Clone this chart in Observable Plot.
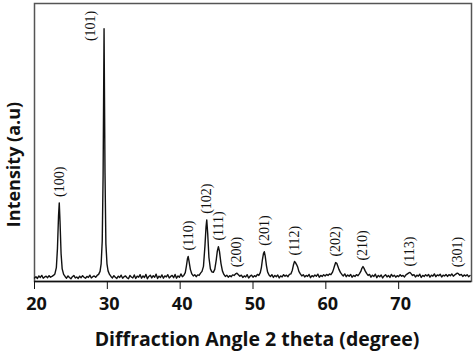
<!DOCTYPE html>
<html><head><meta charset="utf-8">
<script src="https://cdn.jsdelivr.net/npm/d3@7"></script>
<script src="https://cdn.jsdelivr.net/npm/@observablehq/plot@0.6"></script>
<style>body{margin:0;background:#fff}</style>
</head><body><div id="chart"></div>
<script>
// XRD pattern: [2theta (degree), intensity (a.u.)]
const pattern = [
[20.0,14],[20.2,19],[20.4,12],[20.6,22],[20.8,16],[21.0,24],[21.2,13],[21.4,18],[21.6,21],[21.8,15],[22.0,23],[22.2,17],[22.4,20],
[22.6,24],[22.8,30],[23.0,55],[23.15,130],[23.3,260],[23.4,311],[23.5,240],[23.65,110],[23.8,50],[24.0,28],[24.2,20],
[24.4,13],[24.6,22],[24.8,16],[25.0,11],[25.2,19],[25.4,24],[25.6,14],[25.8,18],[26.0,12],[26.2,21],[26.4,15],[26.6,23],[26.8,17],[27.0,13],[27.2,20],[27.4,16],[27.6,25],[27.8,14],[28.0,19],[28.2,22],[28.4,17],[28.6,24],[28.8,28],
[29.0,40],[29.15,70],[29.3,160],[29.42,420],[29.55,1000],[29.68,430],[29.8,150],[29.95,70],[30.1,42],[30.3,28],
[30.5,20],[30.7,14],[30.9,23],[31.1,17],[31.3,12],[31.5,21],[31.7,16],[31.9,25],[32.1,13],[32.3,19],[32.5,22],[32.7,15],[32.9,11],[33.1,24],[33.3,18],[33.5,14],[33.7,26],[33.9,12],[34.1,21],[34.3,17],[34.5,27],[34.7,13],[34.9,22],[35.1,16],[35.3,28],[35.5,11],[35.7,20],[35.9,25],[36.1,14],[36.3,23],[36.5,17],[36.7,29],[36.9,12],[37.1,21],[37.3,16],[37.5,26],[37.7,13],[37.9,22],[38.1,18],[38.3,27],[38.5,14],[38.7,20],[38.9,24],[39.1,15],[39.3,28],[39.5,13],[39.7,22],[39.9,17],[40.1,30],[40.3,19],[40.5,24],
[40.7,35],[40.85,60],[41.0,90],[41.1,99],[41.22,80],[41.4,48],[41.6,30],[41.8,22],[42.0,27],[42.2,19],[42.4,26],[42.6,24],[42.8,33],[43.0,40],
[43.2,60],[43.4,140],[43.55,215],[43.65,244],[43.78,190],[43.95,95],[44.15,50],[44.35,38],[44.55,36],[44.75,48],
[44.95,85],[45.1,120],[45.25,138],[45.4,118],[45.6,72],[45.8,42],[46.0,28],[46.2,20],[46.4,25],[46.6,17],[46.8,23],[47.0,19],[47.2,26],
[47.4,24],[47.6,30],[47.8,33],[48.0,27],[48.2,21],[48.4,25],[48.6,16],[48.8,22],[49.0,18],[49.2,27],[49.4,14],[49.6,21],[49.8,25],[50.0,17],[50.2,23],[50.4,19],[50.6,28],[50.8,24],[51.0,35],
[51.15,55],[51.3,88],[51.45,112],[51.55,118],[51.68,100],[51.85,62],[52.0,38],[52.2,26],[52.4,20],[52.6,27],[52.8,16],[53.0,24],[53.2,19],[53.4,26],[53.6,14],[53.8,22],[54.0,18],[54.2,27],[54.4,21],[54.6,25],[54.8,19],[55.0,28],[55.2,30],
[55.4,45],[55.55,65],[55.7,79],[55.85,74],[56.0,66],[56.15,56],[56.3,40],[56.5,30],[56.7,22],[56.9,27],[57.1,18],[57.3,24],[57.5,20],[57.7,28],[57.9,15],[58.1,23],[58.3,19],[58.5,26],[58.7,21],[58.9,29],[59.1,17],[59.3,24],[59.5,20],[59.7,27],[59.9,22],[60.1,28],[60.3,24],[60.5,30],[60.7,27],[60.9,36],
[61.05,48],[61.2,62],[61.35,75],[61.5,72],[61.65,60],[61.8,48],[62.0,36],[62.2,28],[62.4,22],[62.6,30],[62.8,19],[63.0,26],[63.2,21],[63.4,28],[63.6,17],[63.8,24],[64.0,20],[64.2,27],[64.4,23],[64.6,30],
[64.8,40],[64.95,52],[65.1,59],[65.25,52],[65.4,42],[65.6,32],[65.8,24],[66.0,28],[66.2,17],[66.4,25],[66.6,20],[66.8,29],[67.0,15],[67.2,24],[67.4,19],[67.6,26],[67.8,14],[68.0,22],[68.2,27],[68.4,18],[68.6,24],[68.8,16],[69.0,28],[69.2,20],[69.4,25],[69.6,17],[69.8,23],[70.0,19],[70.2,27],[70.4,21],[70.6,24],[70.8,18],[71.0,26],
[71.2,30],[71.4,34],[71.55,36],[71.7,31],[71.9,24],[72.1,27],[72.3,18],[72.5,25],[72.7,21],[72.9,29],[73.1,16],[73.3,24],[73.5,20],[73.7,27],[73.9,22],[74.1,28],[74.3,17],[74.5,25],[74.7,21],[74.9,30],[75.1,19],[75.3,26],[75.5,23],[75.7,29],[75.9,18],[76.1,25],[76.3,22],[76.5,28],[76.7,20],[76.9,27],[77.1,23],[77.3,30],[77.5,21],[77.7,26],
[77.9,30],[78.05,33],[78.2,31],[78.4,25],[78.6,28],[78.8,20],[79.0,26],[79.2,22],[79.4,27],[79.6,19],[79.8,24]
];
const hkl = ["(100)","(101)","(110)","(102)","(111)","(200)","(201)","(112)","(202)","(210)","(113)","(301)"];
const hklAngle = [23.4,29.55,41.1,43.65,45.25,47.8,51.55,55.7,61.35,65.1,71.55,78.05];
const hklIntensity = [311,1000,99,244,138,33,118,79,75,59,36,33];
const xTicks = [20,30,40,50,60,70];
const xLabel = "Diffraction Angle 2 theta (degree)";
const yLabel = "Intensity (a.u)";

const data = pattern.map(([a, i]) => ({a, i}));
const peaks = hkl.map((h, k) => ({h, a: hklAngle[k], i: hklIntensity[k]}));
const labelStyle = {x: "a", y: "i", text: "h", rotate: -90, fontFamily: "Liberation Serif", fontSize: 14, fill: "#111"};

const chart = Plot.plot({
  width: 474, height: 352,
  marginLeft: 34, marginRight: 3, marginTop: 3, marginBottom: 71,
  x: {domain: [20, 80], axis: null},
  y: {domain: [0, 1100], axis: null},
  style: {fontFamily: "Open Sans", background: "#fff", color: "#111"},
  marks: [
    Plot.frame({stroke: "#555", strokeWidth: 1.5}),
    Plot.ruleY([0], {stroke: "#111", strokeWidth: 1.5}),
    Plot.axisX({ticks: xTicks, tickSize: 8, text: null, label: null}),
    Plot.axisX({ticks: xTicks, tickSize: 0, tickPadding: 16, fontSize: 18, fontWeight: "bold", label: null, tickFormat: d => String(d), dx: 2}),
    Plot.line(data, {x: "a", y: "i", stroke: "#111", strokeWidth: 1.4}),
    Plot.text(peaks.filter(d => d.h !== "(101)"), {...labelStyle, textAnchor: "start", dy: -6}),
    Plot.text(peaks.filter(d => d.h === "(101)"), {...labelStyle, textAnchor: "end", dx: -14, dy: -18}),
    Plot.text([xLabel], {frameAnchor: "bottom", lineAnchor: "middle", textAnchor: "middle", dx: 4, dy: 58, fontSize: 19.5, fontWeight: "bold", fill: "#111"}),
    Plot.text([yLabel], {frameAnchor: "left", textAnchor: "middle", lineAnchor: "middle", dx: -20, dy: 22, rotate: -90, fontSize: 18, fontWeight: "bold", fill: "#111"})
  ]
});
document.getElementById("chart").appendChild(chart);
</script>
</body></html>
